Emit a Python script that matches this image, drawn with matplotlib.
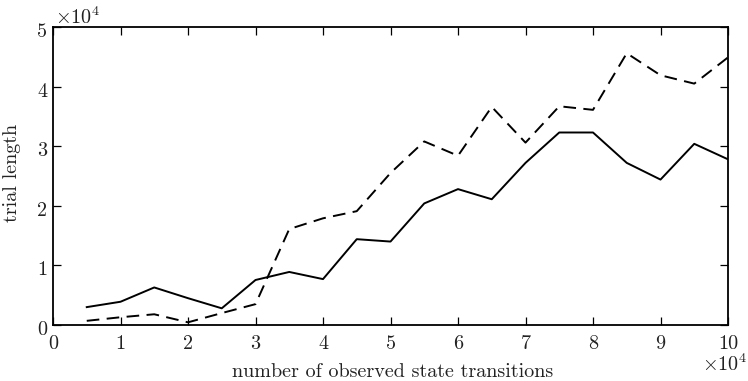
import matplotlib
matplotlib.use("Agg")
import matplotlib.pyplot as plt
import matplotlib.transforms as mtrans

plt.rcParams['font.family'] = ['cmr10', 'DejaVu Serif']
plt.rcParams['mathtext.fontset'] = 'cm'
plt.rcParams['axes.formatter.use_mathtext'] = True

x = [0.5, 1, 1.5, 2, 2.5, 3, 3.5, 4, 4.5, 5, 5.5, 6, 6.5, 7, 7.5, 8, 8.5, 9, 9.5, 10]
solid = [0.30, 0.39, 0.63, 0.45, 0.28, 0.755, 0.89, 0.77, 1.44, 1.40,
         2.04, 2.28, 2.11, 2.72, 3.23, 3.23, 2.72, 2.44, 3.04, 2.78]
dashed = [0.07, 0.13, 0.18, 0.045, 0.20, 0.35, 1.61, 1.79, 1.91, 2.55,
          3.08, 2.84, 3.66, 3.06, 3.67, 3.61, 4.56, 4.19, 4.05, 4.49]
xticks = [0, 1, 2, 3, 4, 5, 6, 7, 8, 9, 10]
yticks = [0, 1, 2, 3, 4, 5]

W, H = 748, 381
fs = 14.5
tc = '#222222'
fig = plt.figure(figsize=(W/100, H/100), dpi=100)
ax = fig.add_axes([53/W, 1-325/H, 675/W, 298/H])

ax.plot(x, solid, color='black', lw=1.4)
ax.plot(x, dashed, color='black', lw=1.4, linestyle=(0, (6.5, 3.8)))

ax.set_xlim(0, 10)
ax.set_ylim(0, 5)
ax.set_xticks(xticks)
ax.set_yticks(yticks)
ax.set_xticklabels([str(t) for t in xticks])
ax.set_yticklabels([str(t) for t in yticks])
ax.tick_params(direction='in', top=True, right=True, length=6, width=0.9,
               labelsize=fs, labelcolor=tc)
ax.tick_params(axis='x', pad=7)
ax.tick_params(axis='y', pad=4)
shift = mtrans.ScaledTranslation(0, -3/100, fig.dpi_scale_trans)
for lab in ax.get_yticklabels():
    lab.set_transform(lab.get_transform() + shift)
for s in ax.spines.values():
    s.set_linewidth(1.3)

fig.text(393/W, 1-377/H, 'number of observed state transitions', fontsize=fs,
         ha='center', va='baseline', color=tc)
ax.set_ylabel('trial length', fontsize=fs, color=tc)
ax.yaxis.set_label_coords(-(53-21)/675, 0.51)

fig.text(55/W, 1-24/H, r'$\times10^4$', fontsize=fs,
         ha='left', va='baseline', color=tc)
fig.text(747/W, 1-371/H, r'$\times10^4$', fontsize=fs,
         ha='right', va='baseline', color=tc)

fig.savefig('out.png', dpi=100)
